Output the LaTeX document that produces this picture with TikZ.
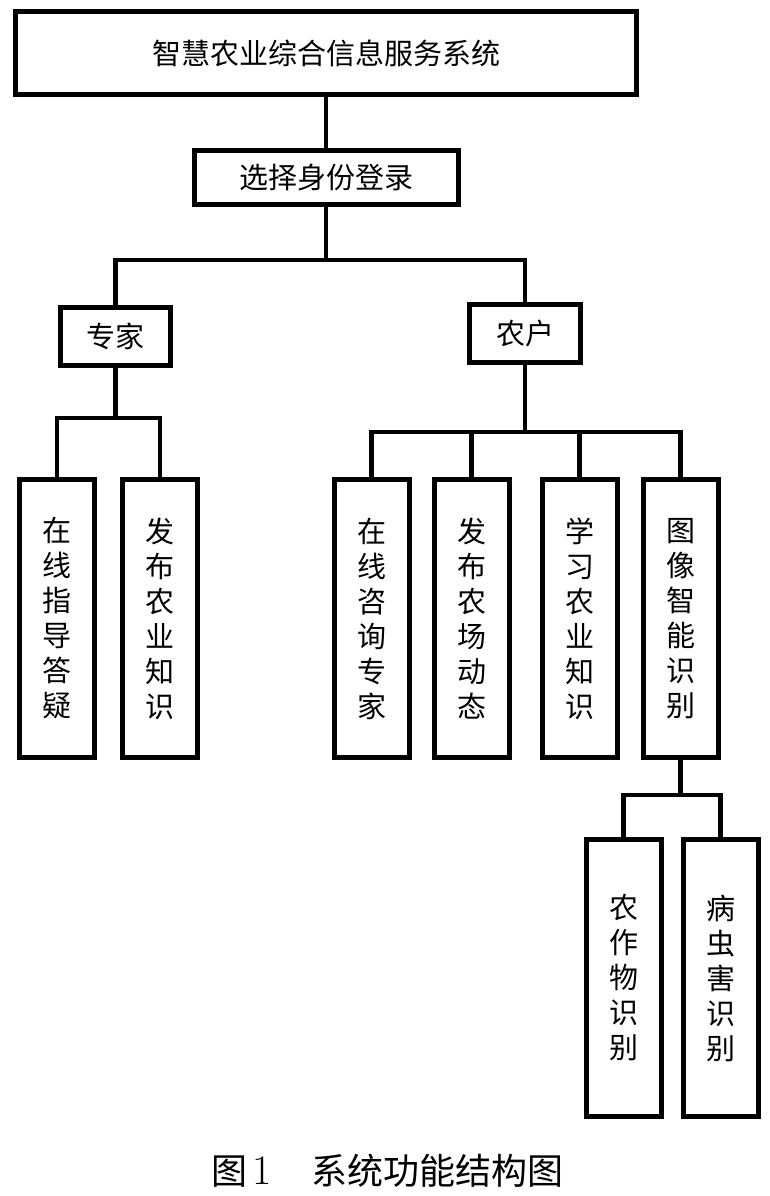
\documentclass[tikz,border=0pt]{standalone}
\usepackage{fontspec}
\newfontfamily\cjk{Noto Sans CJK SC}
\begin{document}
\begin{tikzpicture}[x=1pt,y=-1pt,
  box/.style={draw=black,line width=5pt,fill=white,inner sep=0pt,
    font=\cjk\fontsize{29}{35}\selectfont},
  vbox/.style={box,minimum width=75pt,minimum height=278pt,align=center},
  conn/.style={line width=4.5pt,line cap=rect}]
\useasboundingbox (0,0) rectangle (769,1196);
\fill[white] (0,0) rectangle (769,1196);
\node[box,minimum width=621pt,minimum height=83pt] (top) at (326,53) {智慧农业综合信息服务系统};
\node[box,minimum width=264pt,minimum height=54pt] (login) at (326,177.5) {选择身份登录};
\node[box,minimum width=110pt,minimum height=58pt] (expert) at (115.5,336.5) {专家};
\node[box,minimum width=111pt,minimum height=58pt] (farmer) at (525,333.5) {农户};
\node[vbox] (e1) at (57,618.5) {在\\线\\指\\导\\答\\疑};
\node[vbox] (e2) at (160,618.5) {发\\布\\农\\业\\知\\识};
\node[vbox] (f1) at (371.5,618.5) {在\\线\\咨\\询\\专\\家};
\node[vbox] (f2) at (471.5,618.5) {发\\布\\农\\场\\动\\态};
\node[vbox] (f3) at (579.5,618.5) {学\\习\\农\\业\\知\\识};
\node[vbox] (f4) at (680.5,618.5) {图\\像\\智\\能\\识\\别};
\node[vbox,minimum height=277pt] (c1) at (623.5,978) {农\\作\\物\\识\\别};
\node[vbox,minimum height=277pt] (c2) at (720.5,978) {病\\虫\\害\\识\\别};
\coordinate (b1) at (326,260);
\coordinate (b2) at (115.5,418);
\coordinate (b3) at (525,432);
\coordinate (b4) at (680.5,795);
\draw[conn] (top.south) -- (login.north);
\draw[conn] (login.south) -- (b1);
\draw[conn] (expert.north) |- (b1) -| (farmer.north);
\draw[conn] (expert.south) -- (b2);
\draw[conn] (e1.north) |- (b2) -| (e2.north);
\draw[conn] (farmer.south) -- (b3);
\draw[conn] (f1.north) |- (b3) -| (f4.north);
\draw[conn] (f2.north) -- (f2.north |- b3);
\draw[conn] (f3.north) -- (f3.north |- b3);
\draw[conn] (f4.south) -- (b4);
\draw[conn] (c1.north) |- (b4) -| (c2.north);
\node[font=\cjk\fontsize{36}{40}\selectfont,inner sep=0pt] (cap) at (387.5,1171) {图\hspace{0.15em}{\rmfamily\fontsize{42}{44}\selectfont 1}\hspace{1.1em}系统功能结构图};
\end{tikzpicture}
\end{document}
